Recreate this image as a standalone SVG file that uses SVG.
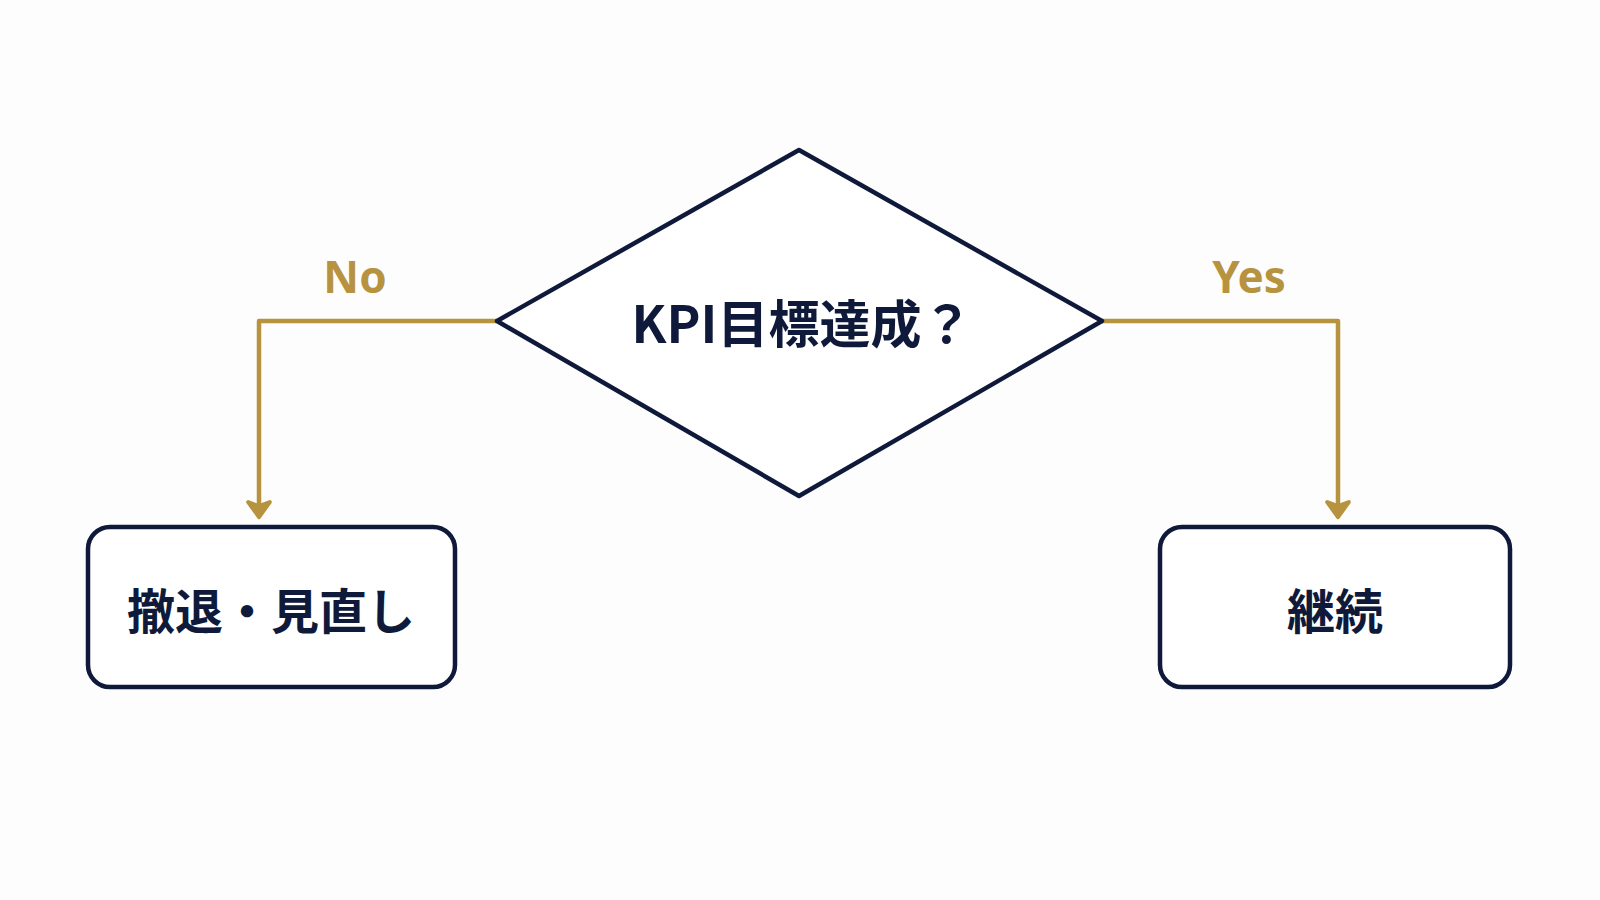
<svg xmlns="http://www.w3.org/2000/svg" width="1600" height="900" viewBox="0 0 1600 900">
<style>
.n{fill:#fff;stroke:#0f1a3a;stroke-width:4.5;stroke-linejoin:round}
.t{font-family:"Noto Sans CJK JP","Noto Sans",sans-serif;font-weight:700;fill:#0f1a3a;text-anchor:middle;dominant-baseline:central}
.c{fill:none;stroke:#b8933f;stroke-width:4.5;stroke-linejoin:round}
.l{font-family:"Noto Sans","Liberation Sans",sans-serif;font-weight:700;fill:#b8933f;text-anchor:middle;font-size:44px}
</style>
<defs><marker id="a" viewBox="0 0 10 10" refX="9" refY="5" markerWidth="6" markerHeight="6" orient="auto"><path d="M3.5 1 L9 5 L3.5 9 L5 5 Z" fill="#b8933f" stroke="#b8933f" stroke-width="1.5" stroke-linejoin="round"/></marker></defs>
<rect width="1600" height="900" fill="#fdfdfd"/>
<g id="connectors">
<path class="c" d="M497 321 H259 V517" marker-end="url(#a)"/>
<path class="c" d="M1102 321 H1338 V517" marker-end="url(#a)"/>
<text class="l" x="355" y="293">No</text>
<text class="l" x="1249" y="293">Yes</text>
</g>
<g id="decision"><path class="n" d="M799 150 L1102 321 L799 496 L497 321 Z"/><text class="t" x="802" y="321" font-size="51">KPI目標達成？</text></g>
<g id="withdraw"><rect class="n" x="88" y="527" width="367" height="160" rx="22"/><text class="t" x="271" y="608" font-size="48">撤退・見直し</text></g>
<g id="continue"><rect class="n" x="1160" y="527" width="350" height="160" rx="22"/><text class="t" x="1335" y="608" font-size="48">継続</text></g>
</svg>
